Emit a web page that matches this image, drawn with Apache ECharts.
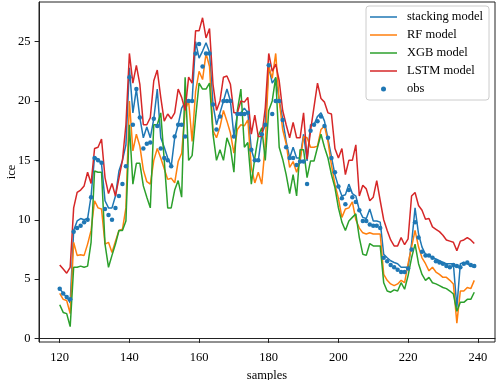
<!DOCTYPE html>
<html>
<head>
<meta charset="utf-8">
<script src="https://cdn.jsdelivr.net/npm/echarts@6/dist/echarts.min.js"></script>
<style>
    html, body { margin: 0; padding: 0; background: #fff; }
    #chart { width: 498px; height: 380px; }
</style>
</head>
<body>
<div id="chart"></div>
<script>
    // samples run 120..239, one value per sample
    var firstSample = 120;

    var stacking = [
        4.2, 3.8, 3.5, 3.0, 9.1, 9.9, 10.1, 10.0, 10.1, 12.0,
        15.3, 15.1, 14.7, 11.6, 11.0, 11.0, 12.0, 14.1, 15.0, 16.3,
        22.8, 19.0, 21.0, 18.6, 16.9, 17.8, 16.9, 18.5, 21.0, 16.9,
        16.1, 15.2, 14.5, 16.9, 18.0, 19.4, 19.9, 20.0, 20.0, 25.0,
        23.6, 24.2, 24.9, 24.1, 19.7, 18.0, 19.0, 20.0, 21.0, 20.0,
        17.05, 18.9, 19.0, 19.4, 19.0, 15.9, 14.95, 14.95, 17.2, 18.0,
        22.9, 21.5, 21.95, 20.1, 18.45, 16.6, 15.2, 16.1, 15.2, 15.2,
        17.2, 14.95, 18.0, 18.0, 18.7, 19.0, 18.3, 16.8, 15.3, 13.8,
        12.8, 12.0, 12.1, 13.0, 12.2, 12.0, 10.8, 10.2, 10.1, 10.9,
        9.9, 9.9, 9.8, 7.1, 6.8, 6.55, 6.4, 6.3, 6.0, 6.0,
        6.0, 8.0, 11.0, 8.8, 7.7, 7.1, 7.0, 6.8, 6.7, 6.55,
        6.4, 6.3, 6.3, 6.3, 2.6, 6.3, 6.4, 6.3, 6.1, 6.0
    ];
    var rf = [
        3.8, 3.3, 3.2, 2.1, 8.1, 7.0, 7.05, 7.0, 7.95, 9.1,
        11.6, 11.0, 10.9, 7.95, 8.1, 7.25, 8.2, 9.1, 9.2, 11.0,
        20.0, 15.8, 17.2, 16.2, 14.2, 13.2, 13.0, 15.0, 16.0, 15.2,
        14.3, 13.4, 13.5, 13.1, 14.9, 15.6, 19.2, 20.0, 16.6, 20.8,
        22.5, 21.8, 24.0, 22.9, 17.5, 16.9, 17.8, 19.2, 18.3, 17.3,
        15.6, 17.6, 18.0, 17.9, 18.4, 14.4, 13.1, 14.0, 13.0, 16.3,
        22.9, 21.9, 24.0, 20.0, 17.6, 16.4, 14.4, 14.9, 14.0, 14.9,
        17.0, 16.9, 16.1, 16.1, 16.2, 17.6, 17.9, 16.6, 14.6, 13.0,
        11.8, 10.2, 10.9, 11.0, 11.5, 10.0, 9.3, 8.9, 8.8, 8.9,
        8.8, 8.8, 8.8, 5.4, 4.9, 4.6, 4.45, 4.6, 4.9, 4.7,
        6.3, 7.7, 9.1, 7.7, 6.8, 6.3, 5.7, 6.0, 5.6, 5.4,
        5.15, 5.15, 4.9, 4.6, 1.3, 4.0, 4.0, 4.3, 4.2, 4.9
    ];
    var xgb = [
        2.85, 2.2, 2.1, 1.0, 6.0, 6.0, 6.1, 6.0, 6.1, 8.1,
        14.1, 14.0, 14.0, 7.95, 6.0, 7.0, 7.95, 9.1, 9.1, 9.9,
        18.0, 13.0, 14.75, 14.75, 12.85, 11.9, 11.0, 18.0, 18.0, 19.0,
        15.0, 11.0, 11.0, 12.5, 13.3, 11.9, 22.0, 15.0, 15.4, 18.6,
        21.5, 21.0, 21.0, 21.5, 17.2, 15.0, 15.9, 15.0, 16.9, 16.1,
        14.0, 19.2, 21.0, 16.1, 16.5, 13.0, 15.2, 17.05, 17.75, 15.0,
        19.2, 20.0, 22.0, 16.1, 15.1, 13.8, 12.2, 13.8, 12.0, 15.9,
        15.9, 13.55, 14.95, 14.95, 16.1, 17.2, 16.1, 15.2, 13.8, 12.7,
        11.0, 9.8, 9.1, 9.9, 10.2, 10.5, 8.5, 7.1, 7.0, 8.0,
        7.8, 7.8, 7.8, 4.7, 4.0, 3.9, 4.1, 4.0, 4.7, 4.15,
        5.3, 6.8, 7.95, 6.3, 5.4, 4.9, 5.15, 4.7, 4.6, 4.45,
        4.3, 4.2, 4.0, 3.75, 2.3, 3.05, 3.05, 3.3, 3.3, 3.9
    ];
    var lstm = [
        6.2, 5.85, 5.5, 6.0, 11.0, 12.3, 12.5, 12.85, 14.0, 13.05,
        16.0, 16.1, 16.8, 13.55, 12.2, 13.05, 12.0, 13.5, 15.0, 18.0,
        24.0, 21.5, 23.0, 21.4, 18.0, 18.0, 18.6, 21.7, 22.6, 20.3,
        18.3, 18.9, 18.5, 19.0, 21.0, 20.3, 19.2, 22.0, 21.5, 25.9,
        25.9, 27.0, 25.3, 26.1, 21.4, 19.2, 20.0, 22.0, 22.1, 21.4,
        19.0, 19.0, 20.0, 19.9, 20.3, 17.2, 18.8, 17.0, 17.0, 19.4,
        24.0, 22.5, 23.1, 21.7, 19.2, 18.0, 16.9, 18.2, 16.9, 16.9,
        19.0, 15.1, 17.5, 19.5, 21.5, 20.2, 19.9, 19.0, 18.9, 16.0,
        15.2, 16.0, 13.8, 15.0, 15.0, 16.3, 12.0, 12.9, 12.6, 11.6,
        11.9, 13.3, 11.6, 10.0, 9.1, 8.3, 7.8, 7.8, 8.5, 7.9,
        8.4, 12.0, 12.3, 11.2, 10.8, 10.05, 10.1, 9.4, 9.2, 9.0,
        8.7, 8.3, 8.2, 8.1, 7.4, 8.2, 8.3, 8.5, 8.3, 8.0
    ];
    var obs = [
        4.2, 3.8, 3.5, 3.3, 9.0, 9.3, 9.5, 9.8, 10.0, 11.9,
        15.2, 15.0, 14.8, 10.9, 10.4, 10.0, 11.0, 12.0, 13.0, 14.5,
        22.0, 18.0, 21.0, 18.6, 16.0, 16.4, 16.5, 18.5, 17.9, 16.0,
        15.2, 15.0, 14.5, 17.0, 18.0, 18.0, 17.0, 20.0, 20.0, 24.0,
        24.8, 22.9, 24.0, 24.0, 19.7, 17.6, 18.7, 20.0, 20.0, 20.0,
        17.0, 18.9, 18.9, 18.9, 19.0, 15.9, 15.0, 15.0, 17.2, 18.0,
        23.0, 18.9, 20.0, 20.0, 18.4, 16.1, 15.2, 15.2, 14.6, 14.9,
        14.9, 13.0, 17.5, 18.0, 18.3, 18.7, 17.9, 16.9, 15.2, 14.0,
        12.8, 11.8, 11.3, 12.5, 11.9, 11.5, 10.8, 9.9, 9.9, 9.6,
        9.5, 9.5, 9.3, 6.8, 6.5, 6.2, 6.0, 5.8, 5.6, 5.6,
        5.9, 7.5, 9.8, 8.5, 7.3, 7.0, 7.0, 6.8, 6.5, 6.4,
        6.3, 6.1, 6.0, 6.2, 6.1, 6.0, 6.3, 6.4, 6.2, 6.1
    ];

    var xTicks = [120, 140, 160, 180, 200, 220, 240];
    var yTicks = [0, 5, 10, 15, 20, 25];

    function toPairs(values) {
        return values.map(function (v, i) { return [firstSample + i, v]; });
    }

    var serif = '"Liberation Serif", "DejaVu Serif", serif';
    // plain line handle for the legend, no marker
    var lineIcon = 'path://M0 0h27v1.5h-27z';

    function lineSeries(name, values, color) {
        return {
            name: name,
            type: 'line',
            data: toPairs(values),
            symbol: 'none',
            lineStyle: { color: color, width: 1.5 },
            itemStyle: { color: color },
            z: 2
        };
    }

    var chart = echarts.init(document.getElementById('chart'));
    chart.setOption({
        animation: false,
        backgroundColor: '#fff',
        grid: {
            left: 39, right: 3, top: 2, bottom: 38,
            show: true, borderColor: '#222', borderWidth: 1,
            outerBoundsMode: 'none'
        },
        legend: {
            orient: 'vertical',
            left: 366, top: 6,
            data: [
                { name: 'stacking model', icon: lineIcon },
                { name: 'RF model', icon: lineIcon },
                { name: 'XGB model', icon: lineIcon },
                { name: 'LSTM model', icon: lineIcon },
                { name: 'obs', icon: 'circle' }
            ],
            itemWidth: 27, itemHeight: 5, itemGap: 4,
            textStyle: { fontFamily: serif, fontSize: 12.5, color: '#000', lineHeight: 14, padding: [0, 0, 0, 5] },
            backgroundColor: 'rgba(255,255,255,0.8)',
            borderColor: '#ccc', borderWidth: 1, borderRadius: 3,
            padding: [4, 6, 4, 4]
        },
        xAxis: {
            type: 'value',
            min: 114.05, max: 244.95,
            name: 'samples', nameLocation: 'middle', nameGap: 23,
            nameTextStyle: { fontFamily: serif, fontSize: 12.5, color: '#000' },
            axisLine: { show: true, lineStyle: { color: '#222', width: 1 } },
            axisTick: { show: true, length: 4.4, customValues: xTicks, lineStyle: { color: '#222' } },
            axisLabel: { customValues: xTicks, margin: 9, fontFamily: serif, fontSize: 12.5, color: '#000' },
            splitLine: { show: false }
        },
        yAxis: {
            type: 'value',
            min: -0.29, max: 28.33,
            name: 'ice', nameLocation: 'middle', nameGap: 21,
            nameMoveOverlap: false,
            nameTextStyle: { fontFamily: serif, fontSize: 12.5, color: '#000' },
            axisLine: { show: true, lineStyle: { color: '#222', width: 1 } },
            axisTick: { show: true, length: 4.4, customValues: yTicks, lineStyle: { color: '#222' } },
            axisLabel: { customValues: yTicks, margin: 8.5, fontFamily: serif, fontSize: 12.5, color: '#000' },
            splitLine: { show: false }
        },
        series: [
            lineSeries('stacking model', stacking, '#1f77b4'),
            lineSeries('RF model', rf, '#ff7f0e'),
            lineSeries('XGB model', xgb, '#2ca02c'),
            lineSeries('LSTM model', lstm, '#d62728'),
            {
                name: 'obs',
                type: 'scatter',
                data: toPairs(obs),
                symbolSize: 4.5,
                itemStyle: { color: '#1f77b4', opacity: 1 },
                z: 3
            }
        ]
    });
</script>
</body>
</html>
